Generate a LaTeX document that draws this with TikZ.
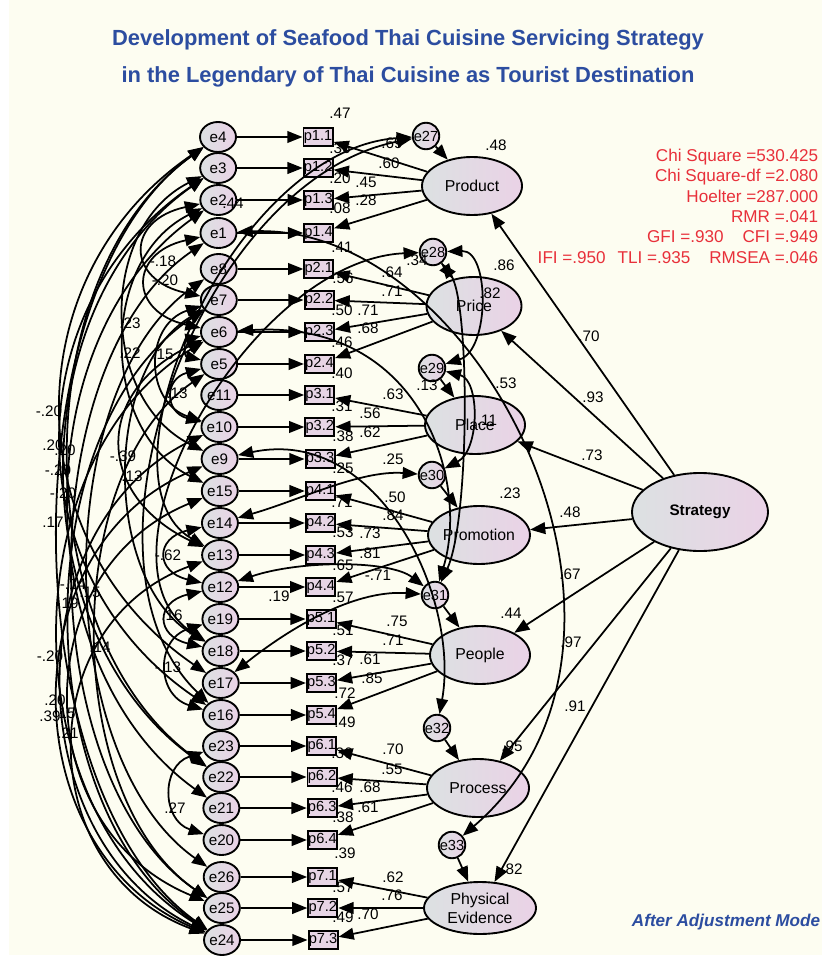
\documentclass[tikz,border=0pt]{standalone}
\usepackage{fontspec}
\setmainfont{Liberation Sans}
\usetikzlibrary{arrows.meta,shapes.geometric}
\definecolor{paper}{HTML}{FDFDF1}
\definecolor{titleblue}{HTML}{2C4DA0}
\definecolor{fitred}{HTML}{E8303A}
\definecolor{shadeleft}{HTML}{DCE1E2}
\definecolor{shaderight}{HTML}{EAD2E6}
\definecolor{boxfill}{HTML}{E7D5E5}
\tikzset{
  errnode/.style={draw, ellipse, line width=1.6pt, minimum width=1.08cm, minimum height=0.9cm, inner sep=0pt, left color=shadeleft, right color=shaderight, font=\fontsize{13}{14}\selectfont},
  distnode/.style={draw, circle, line width=1.6pt, minimum size=0.78cm, inner sep=0pt, left color=shadeleft, right color=shaderight, font=\fontsize{12.5}{13}\selectfont},
  itembox/.style={draw, rectangle, line width=1.7pt, fill=boxfill, minimum width=0.87cm, minimum height=0.54cm, inner sep=0pt, font=\fontsize{12.5}{13}\selectfont},
  latent/.style={draw, ellipse, line width=1.6pt, minimum width=3cm, minimum height=1.74cm, inner sep=0pt, left color=shadeleft, right color=shaderight, font=\fontsize{13.5}{16}\selectfont, align=center},
  est/.style={inner sep=0pt, font=\fontsize{13}{14}\selectfont},
  cov/.style={<->},
  titletext/.style={text=titleblue, font=\bfseries\fontsize{18.7}{21}\selectfont},
  fittext/.style={text=fitred, align=right, inner sep=0pt, font=\fontsize{14.6}{17.4}\selectfont},
  notetext/.style={text=titleblue, inner sep=0pt, font=\bfseries\itshape\fontsize{14.6}{16}\selectfont},
}
\begin{document}
\begin{tikzpicture}[x=0.03cm, y=-0.03cm, >={Triangle[length=13pt,width=10pt]}, line width=1.5pt]
    \useasboundingbox (0,0) rectangle (822,956);
    \fill[white] (0,0) rectangle (822,956);
    \fill[paper] (9,0) rectangle (822,955);

    % title and fit indices
    \node[titletext] (title1) at (408,40) {Development of Seafood Thai Cuisine Servicing Strategy};
    \node[titletext] (title2) at (408,77) {in the Legendary of Thai Cuisine as Tourist Destination};
    \node[fittext, anchor=north east] (fit) at (819,148) {Chi Square =530.425\\Chi Square-df =2.080\\Hoelter =287.000\\RMR =.041\\GFI =.930\hspace{1.1em}CFI =.949\\IFI =.950\hspace{0.7em}TLI =.935\hspace{1.1em}RMSEA =.046};
    \node[notetext, anchor=east] (mode) at (821,922) {After Adjustment Mode};

    % error terms and items
    \foreach \en/\pn/\pt/\y in {e4/p11/p1.1/137, e3/p12/p1.2/168, e2/p13/p1.3/200, e1/p14/p1.4/233,
        e8/p21/p2.1/269, e7/p22/p2.2/300, e6/p23/p2.3/332, e5/p24/p2.4/364,
        e11/p31/p3.1/395, e10/p32/p3.2/427, e9/p33/p3.3/459,
        e15/p41/p4.1/491, e14/p42/p4.2/523, e13/p43/p4.3/555, e12/p44/p4.4/587,
        e19/p51/p5.1/619, e18/p52/p5.2/651, e17/p53/p5.3/683, e16/p54/p5.4/715,
        e23/p61/p6.1/746, e22/p62/p6.2/777, e21/p63/p6.3/808, e20/p64/p6.4/840,
        e26/p71/p7.1/877, e25/p72/p7.2/908, e24/p73/p7.3/940}{
        \node[errnode] (\en) at ({218+(\y-137)/200},\y) {\en};
        \node[itembox] (\pn) at ({318+(\y-137)/160},\y) {\pt};
        \draw[->] (\en) -- (\pn);
    }

    % latent variables
    \node[latent] (product) at (472,186) {Product};
    \node[latent, minimum width=2.85cm] (price) at (474,306) {Price};
    \node[latent] (place) at (475,425) {Place};
    \node[latent] (promotion) at (479,535) {Promotion};
    \node[latent] (people) at (480,655) {People};
    \node[latent, minimum width=3.06cm] (process) at (478,788) {Process};
    \node[latent, minimum width=3.36cm, minimum height=1.56cm] (physical) at (480,908) {Physical\\Evidence};
    \node[latent, minimum width=4.08cm, minimum height=2.34cm, font=\bfseries\fontsize{13}{15}\selectfont] (strategy) at (700,512) {Strategy};

    \node[distnode] (e27) at (426,136) {e27};
    \node[distnode] (e28) at (433,252) {e28};
    \node[distnode] (e29) at (432,368) {e29};
    \node[distnode] (e30) at (432,475) {e30};
    \node[distnode] (e31) at (435,595) {e31};
    \node[distnode] (e32) at (437,728) {e32};
    \node[distnode] (e33) at (452,845) {e33};

    % loadings
    \foreach \lv/\it in {product/p11, product/p12, product/p13, product/p14,
        price/p21, price/p22, price/p23, price/p24, place/p31, place/p32, place/p33,
        promotion/p41, promotion/p42, promotion/p43, promotion/p44,
        people/p51, people/p52, people/p53, people/p54,
        process/p61, process/p62, process/p63, process/p64,
        physical/p71, physical/p72, physical/p73}
        \draw[->] (\lv) -- (\it);

    \foreach \lv in {product, price, place, promotion, people, process, physical}
        \draw[->] (strategy) -- (\lv);

    \draw[->] (e27) -- (product);
    \draw[->] (e28) -- (price);
    \draw[->] (e29) -- (place);
    \draw[->] (e30) -- (promotion);
    \draw[->] (e31) -- (people);
    \draw[->] (e32) -- (process);
    \draw[->] (e33) -- (physical);

    % correlated errors, left side
    \draw[cov] (e2) .. controls +(-93,20) and +(-93,-20) .. (e7);
    \draw[cov] (e1) .. controls +(-90,20) and +(-90,-20) .. (e6);
    \draw[cov] (e3) .. controls +(-120,60) and +(-120,-60) .. (e9);
    \draw[cov] (e2) .. controls +(-120,60) and +(-120,-60) .. (e15);
    \draw[cov] (e7) .. controls +(-75,25) and +(-75,-25) .. (e10);
    \draw[cov] (e5) .. controls +(-55,15) and +(-55,-15) .. (e10);
    \draw[cov] (e6) .. controls +(-125,60) and +(-125,-60) .. (e13);
    \draw[cov] (e7) .. controls +(-117,70) and +(-117,-70) .. (e18);
    \draw[cov] (e14) .. controls +(-65,15) and +(-65,-15) .. (e12);
    \draw[cov] (e12) .. controls +(-65,15) and +(-65,-15) .. (e18);
    \draw[cov] (e19) .. controls +(-65,20) and +(-65,-20) .. (e16);
    \draw[cov] (e23) .. controls +(-60,20) and +(-60,-20) .. (e20);
    \draw[cov] (e6) .. controls +(-35,8) and +(-35,-8) .. (e5);
    \draw[cov] (e4) .. controls +(-205,140) and +(-205,-140) .. (e17);
    \draw[cov] (e3) .. controls +(-205,140) and +(-205,-140) .. (e16);
    \draw[cov] (e4) .. controls +(-195,140) and +(-195,-140) .. (e22);
    \draw[cov] (e3) .. controls +(-200,140) and +(-200,-140) .. (e22);
    \draw[cov] (e2) .. controls +(-195,140) and +(-195,-140) .. (e21);
    \draw[cov] (e4) .. controls +(-210,150) and +(-210,-150) .. (e24);
    \draw[cov] (e1) .. controls +(-190,130) and +(-190,-130) .. (e25);
    \draw[cov] (e8) .. controls +(-170,120) and +(-170,-120) .. (e26);
    \draw[cov] (e7) .. controls +(-195,130) and +(-195,-130) .. (e24);
    \draw[cov] (e6) .. controls +(-210,130) and +(-210,-130) .. (e24);
    \draw[cov] (e5) .. controls +(-160,110) and +(-160,-110) .. (e25);
    \draw[cov] (e10) .. controls +(-205,100) and +(-205,-100) .. (e24);
    \draw[cov] (e9) .. controls +(-210,90) and +(-210,-90) .. (e24);
    \draw[cov] (e15) .. controls +(-195,80) and +(-195,-80) .. (e25);
    \draw[cov] (e13) .. controls +(-190,70) and +(-190,-70) .. (e24);

    % correlated errors, right side
    \draw[cov] (e13) .. controls (90,480) and (230,150) .. (e27);
    \draw[cov] (e16) .. controls (60,560) and (200,180) .. (e27);
    \draw[cov] (e18) .. controls (80,560) and (250,260) .. (e28);
    \draw[cov] (e14) .. controls (300,500) and (360,470) .. (e30);
    \draw[cov] (e12) .. controls (300,560) and (390,560) .. (e31);
    \draw[cov] (e17) .. controls (300,620) and (360,590) .. (e31);
    \draw[cov] (e6) .. controls (420,320) and (470,480) .. (e31);
    \draw[cov] (e9) .. controls (380,425) and (460,600) .. (e32);
    \draw[cov] (e1) .. controls (480,220) and (690,640) .. (e33);
    \draw[cov] (e28) .. controls (490,250) and (490,350) .. (e29);
    \draw[cov] (e29) .. controls (480,380) and (480,450) .. (e30);
    \draw[cov] (e28) .. controls (470,300) and (470,520) .. (e31);

    % estimates
    \foreach \lx/\ly/\lt [count=\i] in {340/113/.47, 340/148/.36, 392/143/.69, 389/163/.60,
        340/178/.20, 366/182/.45, 366/200/.28, 340/208/.08, 496/145/.48, 233/203/.44, 342/247/.41,
        417/260/.34, 392/272/.64, 343/278/.56, 392/291/.71, 490/293/.82, 504/265/.86,
        342/310/.50, 368/310/.71, 368/328/.68, 342/342/.46, 342/373/.40, 427/385/.13, 506/383/.53,
        393/394/.63, 342/406/.31, 370/413/.56, 370/432/.62, 343/436/.38, 487/420/.11,
        393/459/.25, 343/468/.25, 395/497/.50, 342/502/.71, 393/515/.84, 343/532/.53,
        370/533/.73, 370/553/.81, 343/565/.65, 378/575/-.71, 343/597/.57, 510/493/.23, 279/596/.19,
        511/613/.44, 397/621/.75, 393/640/.71, 343/630/.51, 343/660/.37, 370/659/.61,
        372/678/.85, 345/693/.72, 345/722/.49, 393/749/.70, 392/769/.55, 342/753/.36,
        342/787/.46, 370/787/.68, 368/807/.61, 343/817/.38, 345/853/.39, 512/746/.95,
        393/877/.62, 392/895/.76, 343/887/.57, 343/917/.49, 368/914/.70, 512/869/.82,
        589/336/.70, 593/397/.93, 592/455/.73, 570/512/.48, 570/574/.67, 571/642/.97, 575/706/.91,
        163/261/-.18, 165/280/-.20, 130/323/.23, 130/353/.22, 163/354/.15, 177/393/.13,
        49/411/-.20, 53/445/.20, 65/450/.20, 58/470/-.20, 63/493/-.20, 53/522/.17,
        123/456/-.39, 132/476/.13, 168/555/-.62, 73/584/-.14, 90/592/.15, 68/603/.19,
        172/615/.16, 50/656/-.20, 100/647/.14, 168/667/-.13, 55/700/.20, 50/716/.39,
        65/713/.15, 68/733/.21, 175/808/.27}
        \node[est] (est\i) at (\lx,\ly) {\lt};
\end{tikzpicture}
\end{document}
